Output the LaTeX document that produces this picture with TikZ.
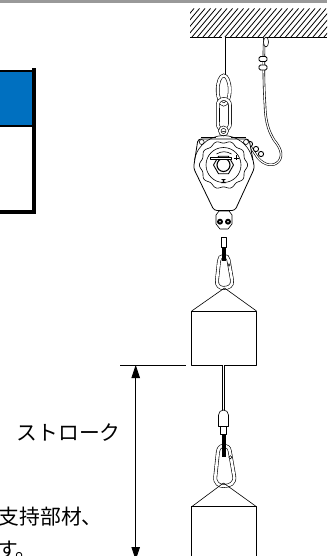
\documentclass[tikz,border=0pt]{standalone}
\usepackage{fontspec}
\newfontfamily\jpfont{Noto Sans CJK JP}
\usepackage{tikz}
\usetikzlibrary{
  positioning,
  calc,
  arrows.meta
}
\definecolor{tblblue}{HTML}{0070C0}
\tikzstyle{part}=[line width=0.6pt, line join=round]
\tikzstyle{wire}=[double, line width=0.6pt, double distance=2.4pt]
\tikzstyle{dimline}=[<->, >={Triangle[length=13pt, width=8.5pt]}, line width=0.8pt]
\tikzstyle{label}=[inner sep=0pt, font=\jpfont\fontsize{20.8}{21}\selectfont, anchor=base west]
\tikzset{
  hook/.pic={
    \draw[wire, double distance=2.6pt] (0,0) .. controls (-3,0) and (-4,2) .. (-4.5,5) -- (-6.5,24)
      .. controls (-7.5,30) and (-3,32) .. (0,32) .. controls (5,32) and (9.5,30) .. (8.5,24)
      -- (5,4) .. controls (4.5,1) and (3,0) .. (0,0) -- cycle;
    \draw[part, fill=white] (5.5,9) circle (1.3);
  }
}

\begin{document}
\begin{tikzpicture}[x=1pt, y=-1pt]
    \useasboundingbox (0,0) rectangle (327,556);
    \def\cx{223.5} % 本体の中心x
    \def\cy{165} % 本体の中心y

    % 上端の帯
    \fill[gray!80] (0,0) rectangle (327,3);

    % 表の描画
    \fill[tblblue] (0,70) rectangle (34,126);
    \fill[black] (0,70) rectangle (36,72);
    \fill[black] (0,125) rectangle (34,127);
    \fill[black] (32,68) rectangle (36,214);
    \fill[black] (0,210) rectangle (36,214);

    % 天井の描画
    \begin{scope}
      \clip (190,8.5) rectangle (327,37);
      \foreach \x in {170,175.5,...,340}
        \draw[line width=0.8pt] (\x,37) -- (\x+24,8.5);
    \end{scope}
    \draw[line width=1pt] (190,37.2) -- (327,37.2);

    % 吊りワイヤとリンク
    \draw[wire, double distance=2.8pt] (223.7,37) -- (223.7,76);
    \draw[wire] (223.7,90) ellipse (6 and 14.5);
    \draw[wire] (217.8,99) [rounded corners=6pt] rectangle (230,130);
    \draw[part, line width=1pt] (219.5,108) -- (219.5,122);
    \draw[wire, double distance=1.6pt] (\cx,131) circle (3.8);

    % 安全ワイヤ
    \draw[wire, double distance=1.2pt] (264.5,37) -- (264,48) .. controls (263.5,70) and (264,90) .. (265,105)
      .. controls (265.5,125) and (270,133) .. (274,140)
      .. controls (279,146) and (284,154) .. (279,161)
      .. controls (274,167) and (265,166) .. (258,158) -- (248,143);
    \draw[part, fill=white] (266,42) ellipse (2.5 and 5);
    \foreach \y in {59,67.5}
      \draw[part, fill=white, rounded corners=1.5pt, line width=0.9pt] (259,\y-2.5) rectangle (267,\y+2.5);
    \foreach \x/\y in {250/144,256/149,261/154}
      \draw[part, fill=white, line width=0.9pt] (\x,\y) circle (2.6);

    % 本体の描画
    \draw[part, fill=white, line width=0.8pt, rounded corners=3pt] (198,139) -- (249,139) -- (254.5,168) -- (235,210.5) -- (214,210.5) -- (193.5,168) -- cycle;
    \draw[part] (201,137.5) -- (216,137.5) (231,137.5) -- (246,137.5);
    \draw[part, fill=white] (201.7,142) circle (2.5);
    \draw[part, fill=white] (246,142) circle (2.5);
    \draw[part] ({\cx-29},160) arc[start angle=190, end angle=350, radius=29.5];
    \draw[part] plot[domain=0:360, samples=121, smooth] ({\cx+(23+1.1*cos(10*\x))*cos(\x)}, {\cy+(23+1.1*cos(10*\x))*sin(\x)});
    \draw[part] (\cx,\cy) circle (17.5);
    \draw[part, fill=white, line width=0.9pt] (\cx-10,\cy) -- (\cx-5,\cy-8.7) -- (\cx+5,\cy-8.7) -- (\cx+10,\cy) -- (\cx+5,\cy+8.7) -- (\cx-5,\cy+8.7) -- cycle;
    \draw[part, line width=1.1pt] (\cx,\cy) circle (6.5);
    \draw[part, fill=white] (\cx-13,\cy-8) rectangle (\cx+8,\cy-6);
    \draw[part] (\cx-7,\cy-11) .. controls (\cx-2,\cy-14) and (\cx+3,\cy-14) .. (\cx+8,\cy-11);
    \draw[part] (\cx+10,\cy-7) -- (\cx+15,\cy-7) (\cx+12.5,\cy-9.5) -- (\cx+12.5,\cy-4.5);
    \fill (\cx-2.5,\cy+14) -- (\cx+2.5,\cy+14) -- (\cx-2.5,\cy+18) -- (\cx+2.5,\cy+18) -- cycle;

    % 下部ブロックの描画
    \draw[part, fill=white] (219,211) -- (229,211) -- (232,215) -- (232,224) -- (228,229) -- (220,229) -- (216,224) -- (216,215) -- cycle;
    \foreach \x in {220,228} {
      \fill (\x,221.7) circle (3);
      \fill[white] (\x,221.7) circle (0.9);
    }
    \draw[part, fill=white] (221,237) rectangle (226.5,247);
    \pic at (223.5,256) {hook};
    \fill (222.3,247) rectangle (225.7,261);

    % 上の重り
    \coordinate (Apex1) at (224.5,288);
    \coordinate (BoxA) at (191.7,311);
    \coordinate (BoxB) at (256.5,311);
    \coordinate (BoxC) at (256.5,365);
    \coordinate (BoxD) at (191.7,365);
    \draw[part] (BoxA) -- (Apex1) -- (BoxB);
    \draw[part, line width=0.9pt] (BoxA) -- (BoxB) -- (BoxC) -- (BoxD) -- cycle;

    % 下のワイヤとフック
    \draw[wire, double distance=1.3pt] (223.5,365) -- (223.5,412);
    \draw[part, fill=white] (218.5,426.5) -- (218.5,415) .. controls (218.5,412) and (221,410) .. (223.5,410)
      .. controls (226,410) and (228.5,412) .. (228.5,415) -- (228.5,426.5) -- cycle;
    \draw[part, fill=white] (220,426.5) rectangle (226.7,434);
    \pic[scale=1.25] at (223.5,446) {hook};
    \fill (221.7,434) rectangle (225.7,457);

    % 下の重り
    \coordinate (Apex2) at (223.5,483);
    \coordinate (LowA) at (191.7,506.7);
    \coordinate (LowB) at (256.5,506.7);
    \draw[part] (LowA) -- (Apex2) -- (LowB);
    \draw[part, line width=0.9pt] (191.7,560) -- (LowA) -- (LowB) -- (256.5,560);

    % 寸法線の描画
    \coordinate (ExtL) at (120,365);
    \coordinate (ExtR) at (186,365);
    \coordinate (DimA) at (135.7,365);
    \coordinate (DimB) at (135.7,560);
    \draw[line width=0.7pt] (ExtL) -- (ExtR);
    \draw[dimline] (DimA) -- (DimB);

    % 文字の描画
    \node[label] (stroke) at (16.5,440) {ストローク};
    \node[label] (note1) at (-1.5,524) {支持部材、};
    \node[label] (note2) at (-3,557) {す。};
\end{tikzpicture}
\end{document}
